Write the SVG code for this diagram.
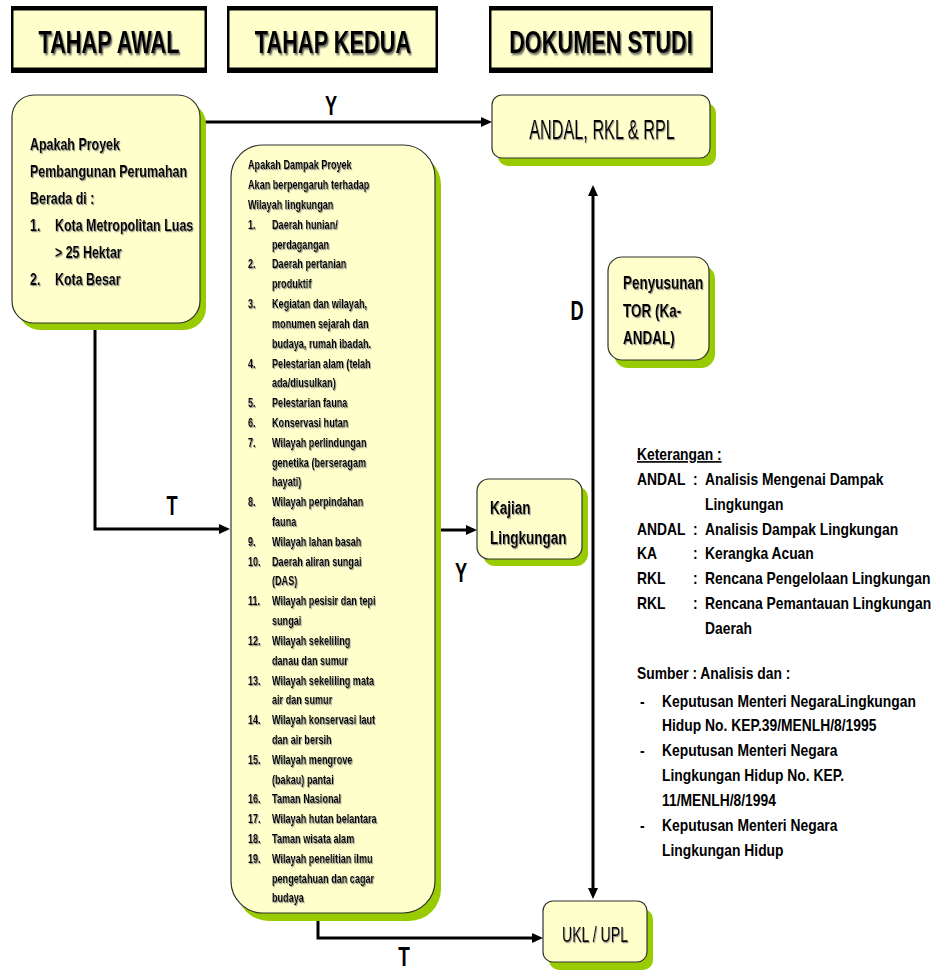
<svg xmlns="http://www.w3.org/2000/svg" width="933" height="974" viewBox="0 0 933 974">
<defs>
<style>
.hdrout{fill:#000}
.hdrin{fill:#FFFFCC}
.box{fill:#FFFFCC;stroke:#333;stroke-width:1.2}
.sh{fill:#99CC00}
.conn{fill:none;stroke:#000;stroke-width:3}
.t{font-family:"Liberation Sans",Arial,sans-serif;fill:#000}
.b{font-weight:bold}
.hdr{font-size:32px;font-weight:bold;text-anchor:middle}
.lb{font-size:16.5px;font-weight:bold}
.mid{font-size:13px;font-weight:bold}
.lg{font-size:16.5px;font-weight:bold}
.lab{font-size:28px;font-weight:bold;text-anchor:middle}
.big{text-anchor:middle}
</style>
<filter id="ts" x="-10%" y="-20%" width="130%" height="150%">
<feDropShadow dx="1.2" dy="1.2" stdDeviation="0.6" flood-color="#777" flood-opacity="0.8"/>
</filter>
<filter id="hs" x="-10%" y="-20%" width="130%" height="150%">
<feDropShadow dx="2" dy="2" stdDeviation="1" flood-color="#555" flood-opacity="0.9"/>
</filter>
<marker id="ah" markerUnits="userSpaceOnUse" markerWidth="11" markerHeight="10" refX="7" refY="5" orient="auto-start-reverse">
<path d="M0,0 L11,5 L0,10 z" fill="#000"/>
</marker>
</defs>
<rect width="933" height="974" fill="#fff"/>

<g id="hdr-awal">
<rect class="hdrout" x="11" y="6" width="196" height="67"/>
<rect class="hdrin" x="13.5" y="10.5" width="191" height="57"/>
<g transform="translate(109,53) scale(0.68,1)" filter="url(#hs)"><text class="t hdr" x="0" y="0">TAHAP AWAL</text></g>
</g>
<g id="hdr-kedua">
<rect class="hdrout" x="227" y="6" width="211" height="67"/>
<rect class="hdrin" x="229.5" y="10.5" width="206" height="57"/>
<g transform="translate(333,53) scale(0.68,1)" filter="url(#hs)"><text class="t hdr" x="0" y="0">TAHAP KEDUA</text></g>
</g>
<g id="hdr-dokumen">
<rect class="hdrout" x="489" y="6" width="224" height="67"/>
<rect class="hdrin" x="491.5" y="10.5" width="219" height="57"/>
<g transform="translate(601,53) scale(0.68,1)" filter="url(#hs)"><text class="t hdr" x="0" y="0">DOKUMEN STUDI</text></g>
</g>

<g id="connectors">
<path class="conn" d="M203,122 H488" marker-end="url(#ah)"/>
<path class="conn" d="M95,323 V529 H226" marker-end="url(#ah)"/>
<path class="conn" d="M435,530 H473" marker-end="url(#ah)"/>
<path class="conn" d="M318,913 V938 H539" marker-end="url(#ah)"/>
<path class="conn" d="M593,189 V895" marker-start="url(#ah)" marker-end="url(#ah)"/>
<g transform="translate(331,115) scale(0.65,1)"><text class="t lab" x="0" y="0">Y</text></g>
<g transform="translate(172,515) scale(0.65,1)"><text class="t lab" x="0" y="0">T</text></g>
<g transform="translate(461,582) scale(0.65,1)"><text class="t lab" x="0" y="0">Y</text></g>
<g transform="translate(577,320) scale(0.65,1)"><text class="t lab" x="0" y="0">D</text></g>
<g transform="translate(404,966) scale(0.68,1)"><text class="t lab" x="0" y="0" font-size="26">T</text></g>
</g>

<g id="node-awal">
<rect class="sh" x="18" y="102" width="188" height="228" rx="22"/>
<rect class="box" x="12" y="95" width="188" height="228" rx="22"/>
<g transform="translate(30,0) scale(0.755,1)" filter="url(#ts)">
<text class="t lb" x="0" y="150">Apakah Proyek</text>
<text class="t lb" x="0" y="177">Pembangunan Perumahan</text>
<text class="t lb" x="0" y="204">Berada di :</text>
<text class="t lb" x="0" y="231">1.</text>
<text class="t lb" x="33" y="231">Kota Metropolitan Luas</text>
<text class="t lb" x="33" y="258">&gt; 25 Hektar</text>
<text class="t lb" x="0" y="285">2.</text>
<text class="t lb" x="33" y="285">Kota Besar</text>
</g>
</g>

<g id="node-kedua">
<rect class="sh" x="237" y="153" width="204" height="768" rx="32"/>
<rect class="box" x="231" y="145" width="204" height="768" rx="32"/>
<g transform="translate(248,0) scale(0.7,1)" filter="url(#ts)">
<text class="t mid" x="0" y="169.5">Apakah Dampak Proyek</text>
<text class="t mid" x="0" y="189.3">Akan berpengaruh terhadap</text>
<text class="t mid" x="0" y="209.1">Wilayah lingkungan</text>
<text class="t mid" x="0" y="228.9">1.</text><text class="t mid" x="34.3" y="228.9">Daerah hunian/</text>
<text class="t mid" x="34.3" y="248.7">perdagangan</text>
<text class="t mid" x="0" y="268.5">2.</text><text class="t mid" x="34.3" y="268.5">Daerah pertanian</text>
<text class="t mid" x="34.3" y="288.4">produktif</text>
<text class="t mid" x="0" y="308.2">3.</text><text class="t mid" x="34.3" y="308.2">Kegiatan dan wilayah,</text>
<text class="t mid" x="34.3" y="328">monumen sejarah dan</text>
<text class="t mid" x="34.3" y="347.8">budaya, rumah ibadah.</text>
<text class="t mid" x="0" y="367.6">4.</text><text class="t mid" x="34.3" y="367.6">Pelestarian alam (telah</text>
<text class="t mid" x="34.3" y="387.4">ada/diusulkan)</text>
<text class="t mid" x="0" y="407.2">5.</text><text class="t mid" x="34.3" y="407.2">Pelestarian fauna</text>
<text class="t mid" x="0" y="427">6.</text><text class="t mid" x="34.3" y="427">Konservasi hutan</text>
<text class="t mid" x="0" y="446.8">7.</text><text class="t mid" x="34.3" y="446.8">Wilayah perlindungan</text>
<text class="t mid" x="34.3" y="466.7">genetika (berseragam</text>
<text class="t mid" x="34.3" y="486.5">hayati)</text>
<text class="t mid" x="0" y="506.3">8.</text><text class="t mid" x="34.3" y="506.3">Wilayah perpindahan</text>
<text class="t mid" x="34.3" y="526.1">fauna</text>
<text class="t mid" x="0" y="545.9">9.</text><text class="t mid" x="34.3" y="545.9">Wilayah lahan basah</text>
<text class="t mid" x="0" y="565.7">10.</text><text class="t mid" x="34.3" y="565.7">Daerah aliran sungai</text>
<text class="t mid" x="34.3" y="585.5">(DAS)</text>
<text class="t mid" x="0" y="605.3">11.</text><text class="t mid" x="34.3" y="605.3">Wilayah pesisir dan tepi</text>
<text class="t mid" x="34.3" y="625.1">sungai</text>
<text class="t mid" x="0" y="644.9">12.</text><text class="t mid" x="34.3" y="644.9">Wilayah sekeliling</text>
<text class="t mid" x="34.3" y="664.8">danau dan sumur</text>
<text class="t mid" x="0" y="684.6">13.</text><text class="t mid" x="34.3" y="684.6">Wilayah sekeliling mata</text>
<text class="t mid" x="34.3" y="704.4">air dan sumur</text>
<text class="t mid" x="0" y="724.2">14.</text><text class="t mid" x="34.3" y="724.2">Wilayah konservasi laut</text>
<text class="t mid" x="34.3" y="744">dan air bersih</text>
<text class="t mid" x="0" y="763.8">15.</text><text class="t mid" x="34.3" y="763.8">Wilayah mengrove</text>
<text class="t mid" x="34.3" y="783.6">(bakau) pantai</text>
<text class="t mid" x="0" y="803.4">16.</text><text class="t mid" x="34.3" y="803.4">Taman Nasional</text>
<text class="t mid" x="0" y="823.2">17.</text><text class="t mid" x="34.3" y="823.2">Wilayah hutan belantara</text>
<text class="t mid" x="0" y="843">18.</text><text class="t mid" x="34.3" y="843">Taman wisata alam</text>
<text class="t mid" x="0" y="862.9">19.</text><text class="t mid" x="34.3" y="862.9">Wilayah penelitian ilmu</text>
<text class="t mid" x="34.3" y="882.7">pengetahuan dan cagar</text>
<text class="t mid" x="34.3" y="902.5">budaya</text>
</g>
</g>

<g id="node-andal">
<rect class="sh" x="498" y="103" width="218" height="63" rx="10"/>
<rect class="box" x="492" y="95" width="218" height="63" rx="10"/>
<g transform="translate(602,139) scale(0.58,1)" filter="url(#ts)"><text class="t big" x="0" y="0" font-size="28">ANDAL, RKL &amp; RPL</text></g>
</g>

<g id="node-tor">
<rect class="sh" x="614" y="265" width="101" height="103" rx="14"/>
<rect class="box" x="608" y="257" width="101" height="103" rx="14"/>
<g transform="translate(623,0) scale(0.75,1)" filter="url(#ts)">
<text class="t b" font-size="18" x="0" y="289">Penyusunan</text>
<text class="t b" font-size="18" x="0" y="317">TOR (Ka-</text>
<text class="t b" font-size="18" x="0" y="344">ANDAL)</text>
</g>
</g>

<g id="node-kajian">
<rect class="sh" x="483" y="486" width="105" height="80" rx="12"/>
<rect class="box" x="477" y="479" width="105" height="80" rx="12"/>
<g transform="translate(490,0) scale(0.73,1)" filter="url(#ts)">
<text class="t b" font-size="18.5" x="0" y="514">Kajian</text>
<text class="t b" font-size="18.5" x="0" y="544">Lingkungan</text>
</g>
</g>

<g id="node-ukl">
<rect class="sh" x="549" y="909" width="104" height="61" rx="10"/>
<rect class="box" x="543" y="901" width="104" height="61" rx="10"/>
<g transform="translate(595,942) scale(0.64,1)" filter="url(#ts)"><text class="t big" x="0" y="0" font-size="22">UKL / UPL</text></g>
</g>

<g id="legend" transform="translate(637,0) scale(0.84,1)">
<text class="t lg" x="0" y="460" text-decoration="underline">Keterangan :</text>
<text class="t lg" x="0" y="485">ANDAL</text><text class="t lg" x="66.7" y="485">:</text><text class="t lg" x="81" y="485">Analisis Mengenai Dampak</text>
<text class="t lg" x="81" y="510">Lingkungan</text>
<text class="t lg" x="0" y="535">ANDAL</text><text class="t lg" x="66.7" y="535">:</text><text class="t lg" x="81" y="535">Analisis Dampak Lingkungan</text>
<text class="t lg" x="0" y="559">KA</text><text class="t lg" x="66.7" y="559">:</text><text class="t lg" x="81" y="559">Kerangka Acuan</text>
<text class="t lg" x="0" y="584">RKL</text><text class="t lg" x="66.7" y="584">:</text><text class="t lg" x="81" y="584">Rencana Pengelolaan Lingkungan</text>
<text class="t lg" x="0" y="609">RKL</text><text class="t lg" x="66.7" y="609">:</text><text class="t lg" x="81" y="609">Rencana Pemantauan Lingkungan</text>
<text class="t lg" x="81" y="634">Daerah</text>
<text class="t lg" x="0" y="679">Sumber : Analisis dan :</text>
<text class="t lg" x="3.6" y="707">-</text><text class="t lg" x="29.8" y="707">Keputusan Menteri NegaraLingkungan</text>
<text class="t lg" x="29.8" y="731">Hidup No. KEP.39/MENLH/8/1995</text>
<text class="t lg" x="3.6" y="756">-</text><text class="t lg" x="29.8" y="756">Keputusan Menteri Negara</text>
<text class="t lg" x="29.8" y="781">Lingkungan Hidup No. KEP.</text>
<text class="t lg" x="29.8" y="806">11/MENLH/8/1994</text>
<text class="t lg" x="3.6" y="831">-</text><text class="t lg" x="29.8" y="831">Keputusan Menteri Negara</text>
<text class="t lg" x="29.8" y="856">Lingkungan Hidup</text>
</g>
</svg>
